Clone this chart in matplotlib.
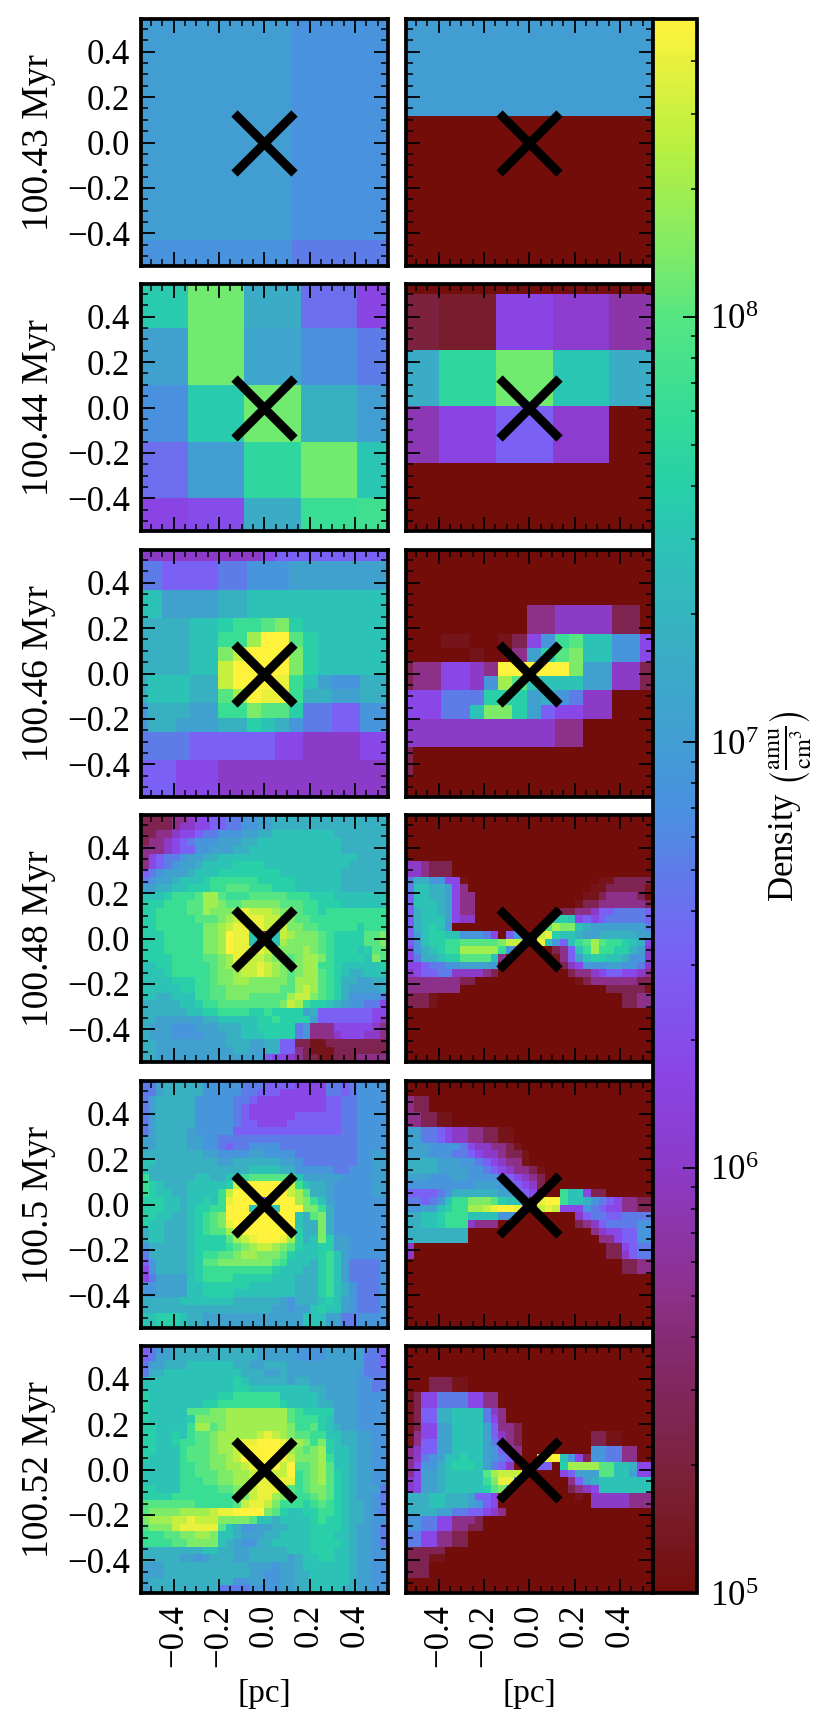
import numpy as np
import matplotlib
matplotlib.use('Agg')
import matplotlib.pyplot as plt
from matplotlib.colors import LinearSegmentedColormap, LogNorm
from matplotlib.ticker import LogLocator, MultipleLocator, NullFormatter

plt.rcParams['font.family'] = ['Liberation Serif', 'DejaVu Serif']
plt.rcParams['mathtext.fontset'] = 'stix'

times = ['100.43 Myr', '100.44 Myr', '100.46 Myr', '100.48 Myr', '100.5 Myr', '100.52 Myr']

# Colour scale: log10(density), colour.
cmap_levels = [5.0, 5.22, 5.58, 5.69, 6.0, 6.21, 6.5, 6.84, 6.98, 7.25, 7.48, 7.6, 7.76, 8.0, 8.11, 8.4, 8.7]
cmap_colors = ['#720d0a', '#7a1f30', '#852a70', '#8c3088', '#8c3ac8', '#8a44e4', '#7a60f4', '#4a90e0',
               '#439cd4', '#38b0c2', '#2cc4b5', '#28cfa8', '#33db98', '#55e583', '#74ea6e', '#b8f040', '#fff23c']

# Shorthand for the fine panels: one letter = one density level, log10(density).
level_chars = '.abcdefghijklmnopqrs'
level_logs = [5.0, 5.1, 5.4, 5.7, 6.0, 6.25, 6.5, 6.7, 6.9, 7.05, 7.25, 7.45, 7.6, 7.8, 8.0, 8.15, 8.3, 8.45, 8.6, 8.7]

# Row 1 and 2 have big cells, so log10(density) top to bottom with the cell edges.
p1l_x = [-0.5435, 0.122, 0.5435]
p1l_y = [0.5435, -0.429, -0.5435]
p1l = [[7.0, 6.87],
       [6.87, 6.7]]

p1r_x = [-0.5435, 0.5435]
p1r_y = [0.5435, 0.115, -0.5435]
p1r = [[7.0],
       [5.0]]

p2l_x = [-0.5435, -0.337, -0.09, 0.16, 0.411, 0.5435]
p2l_y = [0.5435, 0.35, 0.1, -0.15, -0.4, -0.5435]
p2l = [[7.55, 8.1, 7.2, 6.6, 6.2],
       [7.05, 8.1, 7.1, 6.85, 6.7],
       [6.85, 7.55, 8.1, 7.25, 7.0],
       [6.6, 7.0, 7.7, 8.1, 7.5],
       [6.2, 6.3, 7.2, 7.8, 7.85]]

p2r_x = [-0.5435, -0.397, -0.147, 0.103, 0.352, 0.5435]
p2r_y = [0.5435, 0.5, 0.254, 0.006, -0.243, -0.5435]
p2r = [[5.0, 5.0, 5.0, 5.0, 5.0],
       [5.3, 5.2, 6.2, 6.05, 5.85],
       [7.2, 7.7, 8.1, 7.5, 7.2],
       [5.9, 6.2, 6.5, 6.05, 5.0],
       [5.0, 5.0, 5.0, 5.0, 5.0]]

# Row 3, 18 x 18 cells, top row first.
p3l = [
    'dddddddddeffffffff',
    'ggffffgghhhiiiiiii',
    'ggffffgghhhiiiiiii',
    'kkiiiijjkkkkkkkkkk',
    'kkiiiijjkkkkkkkkkk',
    'jjjjkklmmnolkkkkkk',
    'jjjjkkmmpssnlkkkkk',
    'jjjjkkoqsssolkkkkk',
    'jjjjkkqssssolkkkkk',
    'jkkkjjqsssrmkihhjj',
    'jkkkjjnpsrrmjjiijj',
    'hjjjiimmonnlggffhh',
    'hjjiiijjlkjhggffhh',
    'ggggffffffeeddddee',
    'ggggffffffeeddddee',
    'fffeeedddddddddddd',
    'fffeeedddddddddddd',
    'fffeeedddddddddddd',
]

p3r = [
    '',
    '',
    '',
    '',
    '.........ccddddbb.',
    '.........ccddddbb.',
    '...aa..abehmnkkhhe',
    '.....a..cilnokkhhe',
    'bcceedcsssssoiiddb',
    'bcceedhpnkkkkiiddb',
    'eeeggglllijhgdd...',
    'eeeggkoolifeedd...',
    'dddddddddddcc.....',
    'dddddddddddcc.....',
    'b',
    'b',
    '',
    '',
]

# Rows 4 to 6, 32 x 32 cells, top row first. Short rows are low density to the right.
p4l = [
    'bbbbccde effgghhi ijjjjjjj jjjjjjjj',
    'bbbbcdde effgghhi ijjjjjjj jjjjjjjj',
    'bbccdeef gghhhiij jkkkkkkk kjjjjjjj',
    'bccdefgh hhiiijjk kkkkkkkk kkjjjjjj',
    'cccdeffh hiiijjkk kkkkkkkk kkjjjjjj',
    'cefgghii jjkkkkkk kkkkkkkk kkkkjjjj',
    'cefghiij kkkkllll kkkkkkkk kkkjjjjj',
    'fghiiijk kkllllll llkkkkkk kkjjjjjj',
    'ghiijkkk lmmmmmml llllkkkk kkjjjjjj',
    'iijjkkll lmmnnnmm mlllkkkk kkjjjjjj',
    'kkklmmmn ppnmmmnn nnnmmmll lkkkkkkk',
    'lllmmmnn pponnooo oonnnmml llkkkkkk',
    'llmmmmnn poooprqq qpoonmml mmmmmmmm',
    'llmmmmmn nnopqrrr qqoonnmm mmmmmmmm',
    'llmmmmmm oopqrrrr qqqoonnm mmmmlmmm',
    'lllmmmmm oopsrrkb bkqpooon mllllnno',
    'lllmmmmm oopsrrkb bkpoooon mllllnno',
    'lllmmmmm oopsrrrr qpooopon mlllklnn',
    'llllmmmm nnoprrqq poonoppo mllllkon',
    'kkllmmmm mnopqqqr qponoppm mlkkkkkl',
    'kkklmmmm mnoopqqr qponoppn mlkjjkkk',
    'kkkklllm mnooppoo ooonpppn mljjiijj',
    'kkkkkllm mnnooooo oonnpqpn mljiiiij',
    'kkjjkkkm mnnooonn nnnpqqon mljhhhhg',
    'jjjjjkkl mmnnnnnn nnoqpmll kjihhgge',
    'jjjjjjkk llmmmmll mllllijf ffffffee',
    'jjiiiiii jjkkkkkl lmllllif ffffffed',
    'jiiihhhi iijjjkkl llllghcc ceeeeedc',
    'jiiihhhh iiijjkkk llllghcc cdeeeddc',
    'jjiiiiii iiijjjii jjffbbaa bbbbbbbb',
    'jjiiiiii iiiijjii jjffcbaa abbbbbbb',
    'jjiiiiii iiiiiiii feedcbba abbbcccc',
]

p4r = [
    '', '', '', '', '', '',
    'ddcbbb',
    'ddcbbb',
    'gjjhheea ........ ........ .aabbbbb',
    'gkkjjiec ........ ........ aabbbbba',
    'fkkjjiec c....... .......a abccccb',
    'fkkkjiec c....... ......ab bccccccb',
    'fjkkjiec c....... ....bbcc dffggggf',
    'fjkkkied d....... ...klkef efgggggf',
    'fjklkh.. ........ ..npookj iiiiiiig',
    'fikllkkh hhge.fh. .qrlkkji ijjjjjii',
    'fhkllmmn nnnnoqqk .rkhfkmn pnmmlkje',
    'ehjklmmp ppppmhf. ...bcfkm pmmlljid',
    'egjjklln nnnkc... ...acfik llkkjhhd',
    'eefgghhi iiih.... ....bdeh hhiihhgd',
    'deffggdd ddcb.... .....bcc deffeedc',
    'cccccccb b....... ......ab ccccccbb',
    'ccccccc. ........ ........ ..bbbbba',
    'bbba.... ........ ........ ....bbcc',
    'bbba.... ........ ........ ....bbcc',
    '', '', '', '', '', '', '',
]

p5l = [
    'ggijjjjj hhhhhggg ffffeeee ggfghhhh',
    'ggijjjjj hhhhhggf ffeeeeee ggfghhhh',
    'gijjjjjh hhhhggfe eeeeeeee ffgghhhh',
    'gijjjjjh hhhhgfee eeeeeeee ffgghhhh',
    'gijjjjjh hhhhgfee eeeeffff ffgghhhh',
    'gijjjjjh hhhhgffe eeefffff ffgghhhh',
    'gijjjjih hhhhffff ffffffff ffgghhhh',
    'iijjjjii hhgggggg gggggggg gggghhhh',
    'iijjjjii hhgfgghh hhgggggg gggghhhh',
    'jjjjjjjj iihhhhii hhhhgggg gggghhii',
    'kkjjjjjj jjiijjjj jjiihggg gggghhii',
    'kjjjjjjj jjjjjjkk kkjjhhhh hgghhhii',
    'mjjjjjjk kjjkkmnn nnnnkiii iihhhhii',
    'mlkjjjkk kkklqsss ssrqmkjj ihhhhhii',
    'mlkkjjkk kkmqssss sssqpnjj ihhhhhii',
    'lllkkjkk lkmrsssd essspomk ihhhhhhh',
    'lllkkjkl lmmssskg hksssoom jhhhhhhh',
    'llkkjjkl mnosssss sssskjno jhhhhhhh',
    'lkkjjjkl mnorssss sssskjjo jhhhhhhh',
    'jkkjjjkl mnnprsss ssssljjo jhhhhhhh',
    'jkkjjjkl lllnpqrs ssrpljko liihhhhh',
    'hjjjjjkl lllmnopq qponlkkl liihhhhh',
    'gjjjjjkl mmnnoppo oonlkkkl mkihhhhh',
    'fhjjjjkl nnoooooo onmkkkjl mkiggggh',
    'ehjjjjkl mmmmmmmm mlkkkjjl mkiggggh',
    'egiiiikl mmmmllll lkkkjjjl mkiggggh',
    'hhiiiikk llllllkk kkkkjjjl mkjhgggh',
    'hhiiiikk llllkkkk kkkkjjjl mkjhgggh',
    'jjjjjkkk kkkkjjjj jjihjjjk lkihgggh',
    'jjjjjjjj jjjjjjjj jiihiikl kkihgggh',
    'kklllkjj iiiiiiii iiiiikkk iigghhhh',
    'kklllkjj iiiiiiii iiiiikkk iigghhhh',
]

p5r = [
    '', '',
    'cbb',
    'cbb',
    'ccbbaa',
    'ccbbaa',
    'iiggfedd ccbbaa',
    'iiggfedd ccbbaa',
    'iiihhhhg eddccba',
    'iiihhhgg feddcbba',
    'jjjjiiih hgfedcca',
    'jjjjiiii hhgfedcc ba',
    'iiihhhii hhhhgfed cb',
    'hhhhhhhh hiiihgfe db',
    'ffffghjj jjjjiiff e...mkke bb',
    'ggfghkmm ooonlkkh .rssmkkj hgfeccbb',
    'hhiiklmm ppqrssrf .qrqeeeh gfeeccbb',
    'jjkklmmm kkkkhhg. ......df ggffgggg',
    'jjkklmmm dccc.... ......bc dfgggghh',
    'jjjjjjjj ........ ........ cdeeffhh',
    'jjjjjjjj ........ ........ .cceffhh',
    'd....... ........ ........ ..bbefgg',
    'd....... ........ ........ ..bbdfgg',
    '........ ........ ........ ....bbcc',
    '........ ........ ........ ....bbcc',
    '', '', '', '', '', '', '',
]

p6l = [
    'fghijjjj jjjjjjji iiiihhhh iiiiiggf',
    'fgiijjjj jjjjjjji iiiihhhh iiiiiggf',
    'giijjjkk kkkkjjii jjjiiiii iiiiiggf',
    'gjjkkkkk kkkkkjjj iijiiiii iiiihggg',
    'kkkkkkkk kkkklkjj jjjijjii iiiihhgg',
    'kkkkkkkk kkkkllkk kkkkkkjj iiiihhgg',
    'lkkkkkkk kkllmmmm mmkkkkkj iiiihhhh',
    'lkkkkkkk llmmmmmm mmlkkkkj jiiihhhh',
    'lkkkkknn noopippp pppnmlll liiihhhh'.replace('opi', 'opp'),
    'lkkkkklo ooopippp pppnmmml kiiihhhh'.replace('opi', 'opp'),
    'llkkkkmp pnoppppp pppommnl kjiihhhh',
    'llkklkmn nopppppq rqponnmm kkjjiihh',
    'llkklmmn noppqrrs ssrqpomo lkjjiihh',
    'llkkkmnn noppqsss ssrponop lkkjiihh',
    'lkkkkmnn noopqsss ssrqooop mkkjiihh',
    'kkkkkmmn nooppqrs ssqsnnop nkkjiihh',
    'kkkkkmmn nnooppqq qqqsmnop nlkjiihh',
    'kkkkkmmm nnooppqr rrrrmnop nlkjiihh',
    'llkkkmmm mmnnopqr rrpnmnoo nlkjiiig',
    'llllmmmm mmmmooqr rpoommno nlkjiihg',
    'nnnnnnnm mmmmnqrr qommmlmn mlkjjihg',
    'nooooppp pqrrssss onlkkllm mlkjjihg',
    'opppqqrq qqoooonk kjkkkklm llkjjihh',
    'noooqrrr rrnkjhhi ijjkkkll llkjiihg',
    'mmmnnoop pokkjiii jjkkkkll lkkjiihg',
    'mmmmnnoo ookjihhj jkkkkkll llkjiihg',
    'jjjjjjjj kkjjiijj jjjkkkll lkkjiihh',
    'jjjjjiih ijjjiijj jjjijkkl lkkjiihh',
    'iiijjjjj jjjjjjii ihiijkkk kkkjiihh',
    'iiijjjjj jjjjjjii hhiijjkk kkkjiihh',
    'ijjjjjjj jjjjhhii hhiijjkk kkkjiihh',
    'ijjjjjjj jjgggghh hhiijjkk kkjjiihh',
]

p6r = [
    '', '', '', '',
    '...bbbaa',
    '...bbbaa',
    'abeegggg eecc',
    'abeegggg eecc',
    'abffjjkk kkgdc',
    'abffjjkk kkgec',
    'abeeiikk kkifccb.',
    'aceeiikk kkifdcb. ........ bbaa',
    'acffiikk kkigecb. ........ bbaa',
    'cdffiikk kkihfdc. ........ hhggcc',
    'cdghikkl kkihgfc. .prskheb hhggcc',
    'cehhjkll lkigfd.. .ff.lppp pnnkkjee',
    'ceiijkkk kknpqqq. ....efii innkkiee',
    'deiijkkk kkmorrh. .....cfi jkkkkkkk',
    'deiijkkk kklnok.. .....bcd ekkkkkkk',
    'jjjkkjjj iffe.... ......a. dddddccc',
    'jjjkkjjj ihfe.... ........ dddddccc',
    'jjjjiigg ffedc',
    'hhggeecc cb',
    'hhggeecc bb',
    'ggeeccbb',
    'ggeeccbb',
    'bbbbb',
    'bbbaa',
    'bbb',
    'bbb',
    '', '',
]

LIM = 0.5435


def decode(rows, n):
    # letters to densities, short rows filled up with the floor level
    out = []
    for row in rows:
        row = row.replace(' ', '').ljust(n, '.')[:n]
        out.append([10 ** level_logs[level_chars.index(c)] for c in row])
    return np.array(out)


fine = np.linspace(-LIM, LIM, 33)
p3l_x = np.r_[-LIM, np.linspace(-0.515, 0.485, 17), LIM]
p3l_y = np.r_[LIM, np.linspace(0.493, -0.507, 17), -LIM]
p3r_x = np.r_[-LIM, np.linspace(-0.512, 0.488, 17), LIM]
p3r_y = np.r_[LIM, np.linspace(0.488, -0.512, 17), -LIM]

panels = [
    (p1l_x, p1l_y, 10.0 ** np.array(p1l)), (p1r_x, p1r_y, 10.0 ** np.array(p1r)),
    (p2l_x, p2l_y, 10.0 ** np.array(p2l)), (p2r_x, p2r_y, 10.0 ** np.array(p2r)),
    (p3l_x, p3l_y, decode(p3l, 18)), (p3r_x, p3r_y, decode(p3r, 18)),
    (fine, fine[::-1], decode(p4l, 32)), (fine, fine[::-1], decode(p4r, 32)),
    (fine, fine[::-1], decode(p5l, 32)), (fine, fine[::-1], decode(p5r, 32)),
    (fine, fine[::-1], decode(p6l, 32)), (fine, fine[::-1], decode(p6r, 32)),
]

W, H = 830, 1729
fig = plt.figure(figsize=(W / 100, H / 100), dpi=100)

stops = [(l - 5.0) / (8.7 - 5.0) for l in cmap_levels]
cmap = LinearSegmentedColormap.from_list('density', list(zip(stops, cmap_colors)), N=512)
norm = LogNorm(vmin=1e5, vmax=10 ** 8.7)


def px_axes(x0, x1, y0, y1):
    return fig.add_axes([x0 / W, 1 - y1 / H, (x1 - x0) / W, (y1 - y0) / H])


row_tops = [19, 284, 550, 815, 1081, 1346]
col_lefts = [141, 406]
tick_font = 25

for i, (xe, ye, vals) in enumerate(panels):
    row, col = i // 2, i % 2
    ax = px_axes(col_lefts[col], col_lefts[col] + 246.5, row_tops[row], row_tops[row] + 247)
    im = ax.pcolormesh(xe, ye, vals, cmap=cmap, norm=norm, shading='flat')
    ax.plot(0, 0, 'x', color='k', ms=43, mew=6.4)
    ax.set_xlim(-LIM, LIM)
    ax.set_ylim(-LIM, LIM)
    ax.xaxis.set_major_locator(MultipleLocator(0.2))
    ax.yaxis.set_major_locator(MultipleLocator(0.2))
    ax.xaxis.set_minor_locator(MultipleLocator(0.05))
    ax.yaxis.set_minor_locator(MultipleLocator(0.05))
    ax.tick_params(which='both', direction='in', top=True, right=True, colors='k')
    ax.tick_params(which='major', length=10, width=1.3, labelsize=tick_font)
    ax.tick_params(which='minor', length=5, width=1.1)
    for s in ax.spines.values():
        s.set_linewidth(2.7)
    ax.tick_params(labelleft=col == 0, labelbottom=row == 5)
    if row == 5:
        ax.tick_params(axis='x', labelrotation=90, pad=8)
        ax.set_xlabel('[pc]', fontsize=24, va='top')
        ax.xaxis.set_label_coords(0.5, -0.345)
    if col == 0:
        ax.tick_params(axis='y', pad=8)
        ax.set_ylabel(times[row], fontsize=27, va='bottom')
        ax.yaxis.set_label_coords(-0.345, 0.5)

cax = px_axes(653, 697, 19, 1593)
cb = fig.colorbar(im, cax=cax)
cb.outline.set_linewidth(2.7)
cax.yaxis.set_major_locator(LogLocator(base=10))
cax.yaxis.set_minor_locator(LogLocator(base=10, subs=np.arange(2, 10)))
cax.yaxis.set_minor_formatter(NullFormatter())
cax.tick_params(which='both', direction='in', right=True, left=False)
cax.tick_params(which='major', length=10, width=1.3, labelsize=tick_font, pad=9)
cax.tick_params(which='minor', length=4, width=1.1)
cb.set_label(r'Density $\left(\frac{\mathrm{amu}}{\mathrm{cm}^3}\right)$', fontsize=25, labelpad=7)

fig.savefig('out.png', dpi=100)
